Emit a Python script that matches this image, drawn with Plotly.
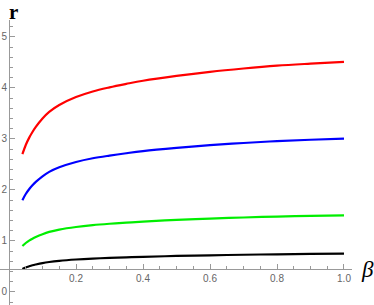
import plotly.graph_objects as go

beta = [0.04, 0.05, 0.06, 0.07, 0.08, 0.10, 0.12, 0.15, 0.20, 0.25, 0.30, 0.35, 0.40, 0.50, 0.60, 0.70, 0.80, 0.90, 1.00]
r_red = [2.70, 2.88, 3.02, 3.135, 3.235, 3.40, 3.53, 3.665, 3.82, 3.93, 4.01, 4.078, 4.14, 4.235, 4.315, 4.38, 4.435, 4.475, 4.51]
r_blue = [1.80, 1.92, 2.013, 2.09, 2.157, 2.267, 2.353, 2.443, 2.547, 2.62, 2.673, 2.719, 2.76, 2.823, 2.877, 2.92, 2.957, 2.983, 3.007]
r_green = [0.90, 0.96, 1.007, 1.045, 1.078, 1.133, 1.177, 1.222, 1.273, 1.31, 1.337, 1.359, 1.38, 1.412, 1.438, 1.46, 1.478, 1.492, 1.503]
r_black = [0.45, 0.48, 0.503, 0.523, 0.539, 0.567, 0.588, 0.611, 0.637, 0.655, 0.668, 0.68, 0.69, 0.706, 0.719, 0.73, 0.739, 0.746, 0.752]

x_ticks = [0.2, 0.4, 0.6, 0.8, 1.0]
x_tick_text = ["0.2", "0.4", "0.6", "0.8", "1.0"]
y_ticks = [0, 1, 2, 3, 4, 5]
y_tick_text = ["0", "1", "2", "3", "4", "5"]

x_range = [-0.0269, 1.0239]
y_range = [-0.255, 5.33]
x_axis_at = 0.45
y_axis_at = 0.0

fig = go.Figure()
for ys, col in [(r_red, "#ff0000"), (r_blue, "#0000ff"), (r_green, "#00ee00"), (r_black, "#000000")]:
    fig.add_trace(go.Scatter(x=beta, y=ys, mode="lines",
                             line=dict(color=col, width=2.2, shape="spline", smoothing=1.0),
                             showlegend=False, hoverinfo="skip"))

axis_col = "#999999"
xpos = (x_axis_at - y_range[0]) / (y_range[1] - y_range[0])
ypos = (y_axis_at - x_range[0]) / (x_range[1] - x_range[0])
fig.update_layout(
    width=374, height=305,
    margin=dict(l=0, r=22, t=20, b=0),
    paper_bgcolor="white", plot_bgcolor="white",
    xaxis=dict(range=x_range, domain=[0, 1], anchor="free", position=xpos,
               showgrid=False, zeroline=False, showline=True, linecolor=axis_col, linewidth=1,
               tickvals=x_ticks, ticktext=x_tick_text, ticks="inside", ticklen=5, tickcolor=axis_col,
               tickfont=dict(family="Liberation Sans", size=10, color="#666666"),
               minor=dict(ticks="inside", ticklen=3, dtick=0.05, tick0=0, tickcolor=axis_col, showgrid=False)),
    yaxis=dict(range=y_range, domain=[0, 1], anchor="free", position=ypos,
               showgrid=False, zeroline=False, showline=True, linecolor=axis_col, linewidth=1,
               tickvals=y_ticks, ticktext=y_tick_text, ticks="inside", ticklen=5, tickcolor=axis_col,
               tickfont=dict(family="Liberation Sans", size=10, color="#666666"),
               minor=dict(ticks="inside", ticklen=3, dtick=0.2, tick0=0, tickcolor=axis_col, showgrid=False)),
    annotations=[
        dict(text="<b>r</b>", x=0.0, y=1.0, xref="paper", yref="paper", showarrow=False,
             xanchor="left", yanchor="top", xshift=7, yshift=22,
             font=dict(family="Liberation Serif", size=21, color="black")),
        dict(text="β", x=1.0, y=xpos, xref="paper", yref="paper", showarrow=False,
             xanchor="left", yanchor="middle", xshift=8, borderpad=0,
             font=dict(family="Liberation Serif", size=23, color="black", style="italic")),
    ],
)

fig.write_html("out.html", config={"displayModeBar": False},
               post_script="document.body.style.margin='0';document.body.style.overflow='hidden';")
